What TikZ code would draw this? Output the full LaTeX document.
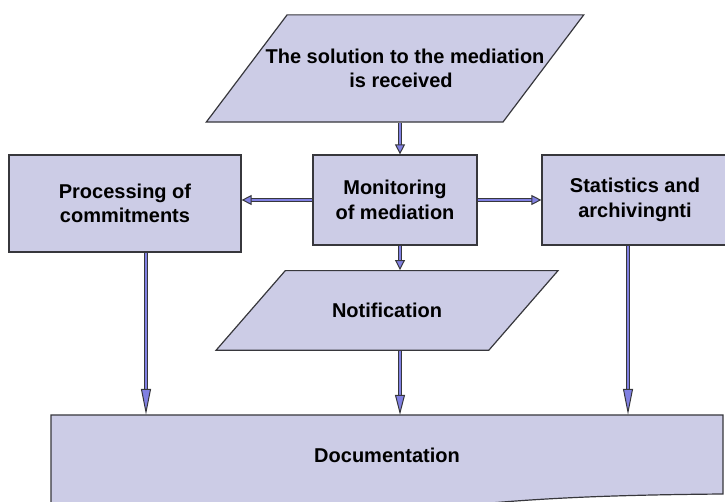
\documentclass[tikz,border=0pt]{standalone}
\usepackage{fontspec}
\setmainfont{Liberation Sans}
\usetikzlibrary{shapes.geometric,arrows.meta}
\definecolor{boxfill}{RGB}{204,204,230}
\definecolor{boxline}{RGB}{55,55,60}
\definecolor{arrowfill}{RGB}{128,128,226}

\begin{document}
\begin{tikzpicture}[x=1pt, y=1pt,
        block/.style={draw=boxline, fill=boxfill, line width=1.2pt,
            font=\bfseries\fontsize{20}{24.5}\selectfont, align=center},
        parallel/.style 2 args={block, trapezium, trapezium stretches body,
            trapezium left angle=#1, trapezium right angle=#2},
        flow/.style={draw=boxline, line width=1pt, double=arrowfill, double distance=2.2pt,
            -{Triangle[length=#1, width=10pt, fill=arrowfill]}},
        flow/.default=10pt]
        \useasboundingbox ( 0, 0 ) rectangle ( 725, 502 );

        % документ
        \begin{scope}
            \clip ( 0, 0 ) rectangle ( 725, 502 );
            \filldraw [draw=boxline, fill=boxfill, line width=1.2pt] ( 51, -20 ) -- ( 51, 87 ) -- ( 723, 87 ) -- ( 723, 8 )
                .. controls ( 610, 7 ) and ( 530, 4 ) .. ( 440, -6 ) -- ( 300, -20 ) -- cycle;
        \end{scope}
        \node [font=\bfseries\fontsize{20}{24.5}\selectfont, minimum width=672, minimum height=80] (doc) at ( 387, 47 ) {Documentation};

        % блоки
        \node [parallel={53}{127}, inner ysep=34, inner xsep=-41.5, minimum width=376] (sol) at ( 395, 433.5 )
            {\hspace*{20pt}The solution to the mediation\\\hspace*{12pt}is received};
        \node [block, minimum width=232, minimum height=97] (proc) at ( 125, 298.5 ) {Processing of\\commitments};
        \node [block, minimum width=164, minimum height=90] (mon) at ( 395, 302 ) {Monitoring\\of mediation};
        \node [block, minimum width=186, minimum height=90] (stat) at ( 635, 302 ) {Statistics and\\archivingnti};
        \node [parallel={49}{131}, inner ysep=32.5, minimum width=342] (note) at ( 387, 191.5 ) {Notification};

        % стрелки
        \coordinate (spine) at ( 400, 0 );
        \draw [flow] (sol.south -| spine) -- (mon.north -| spine);
        \draw [flow] (mon.west) -- (proc.east |- mon.west);
        \draw [flow] (mon.east) -- (stat.west |- mon.east);
        \draw [flow] (mon.south -| spine) -- (note.north -| spine);
        \draw [flow=20pt] (note.south -| spine) -- (doc.north -| spine);
        \draw [flow=26pt] ([xshift=21]proc.south) -- ([xshift=21]proc.south |- doc.north);
        \draw [flow=26pt] ([xshift=-7]stat.south) -- ([xshift=-7]stat.south |- doc.north);
    \end{tikzpicture}
\end{document}
